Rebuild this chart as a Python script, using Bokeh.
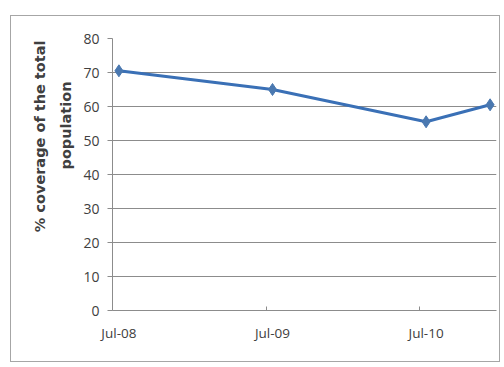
from bokeh.plotting import figure
from bokeh.models import FixedTicker, Title, Range1d
from bokeh.embed import file_html
from bokeh.resources import INLINE

# months since Jul-08 (points sit mid-month on a monthly date axis)
months = ["Jul-08", "Jul-09", "Jul-10", "Dec-10"]
month_index = [0, 12, 24, 29]
coverage = [70.5, 65.0, 55.5, 60.5]
tick_labels = ["Jul-08", "Jul-09", "Jul-10"]
tick_months = [0, 12, 24]
y_ticks = [0, 10, 20, 30, 40, 50, 60, 70, 80]
ylabel_lines = ["% coverage  of the total", "population"]

xs = [m + 0.5 for m in month_index]

p = figure(width=490, height=347, output_backend="svg", toolbar_location=None,
           x_range=Range1d(0, 30), y_range=Range1d(0, 80),
           min_border_left=101, min_border_right=5, min_border_top=22, min_border_bottom=53)
p.margin = (15, 4, 5, 10)
p.styles = {"border": "1px solid #a6a6a6", "box-sizing": "border-box"}
p.outline_line_color = None
p.background_fill_color = "white"
p.border_fill_color = "white"

p.xgrid.grid_line_color = None
p.ygrid.grid_line_color = "#8c8c8c"
p.ygrid.grid_line_width = 1

label_pos = [m + 0.5 for m in tick_months]
p.xaxis.ticker = FixedTicker(ticks=label_pos, minor_ticks=tick_months)
p.xaxis.major_label_overrides = {lp: t for lp, t in zip(label_pos, tick_labels)}
p.xaxis.major_tick_out = 0
p.xaxis.major_tick_in = 0
p.xaxis.minor_tick_out = 0
p.xaxis.minor_tick_in = 4
p.xaxis.minor_tick_line_color = "#8c8c8c"
p.xaxis.axis_line_color = "#8c8c8c"
p.xaxis.major_label_text_font = "Open Sans"
p.xaxis.major_label_text_font_size = "13.5px"
p.xaxis.major_label_text_color = "#404040"
p.xaxis.major_label_standoff = 13

p.yaxis.ticker = FixedTicker(ticks=y_ticks)
p.yaxis.major_tick_out = 5
p.yaxis.major_tick_in = 0
p.yaxis.minor_tick_line_color = None
p.yaxis.major_tick_line_color = "#8c8c8c"
p.yaxis.axis_line_color = "#8c8c8c"
p.yaxis.major_label_text_font = "Open Sans"
p.yaxis.major_label_text_font_size = "14px"
p.yaxis.major_label_text_color = "#404040"
p.yaxis.major_label_standoff = 8

p.line(xs, coverage, line_color="#3a70b6", line_width=3)
p.scatter(xs, coverage, marker="diamond", size=12, fill_color="#4a78b0",
          line_color="#4a78b0")

t2 = Title(text=ylabel_lines[1], align="right", offset=43, text_font="DejaVu Sans",
           text_font_style="bold", text_font_size="14.5px", text_color="#404040",
           standoff=14)
p.add_layout(t2, "left")
t1 = Title(text=ylabel_lines[0], align="right", offset=-3, text_font="DejaVu Sans",
           text_font_style="bold", text_font_size="14.5px", text_color="#404040",
           standoff=2)
p.add_layout(t1, "left")

open("out.html", "w").write(file_html(p, INLINE))
